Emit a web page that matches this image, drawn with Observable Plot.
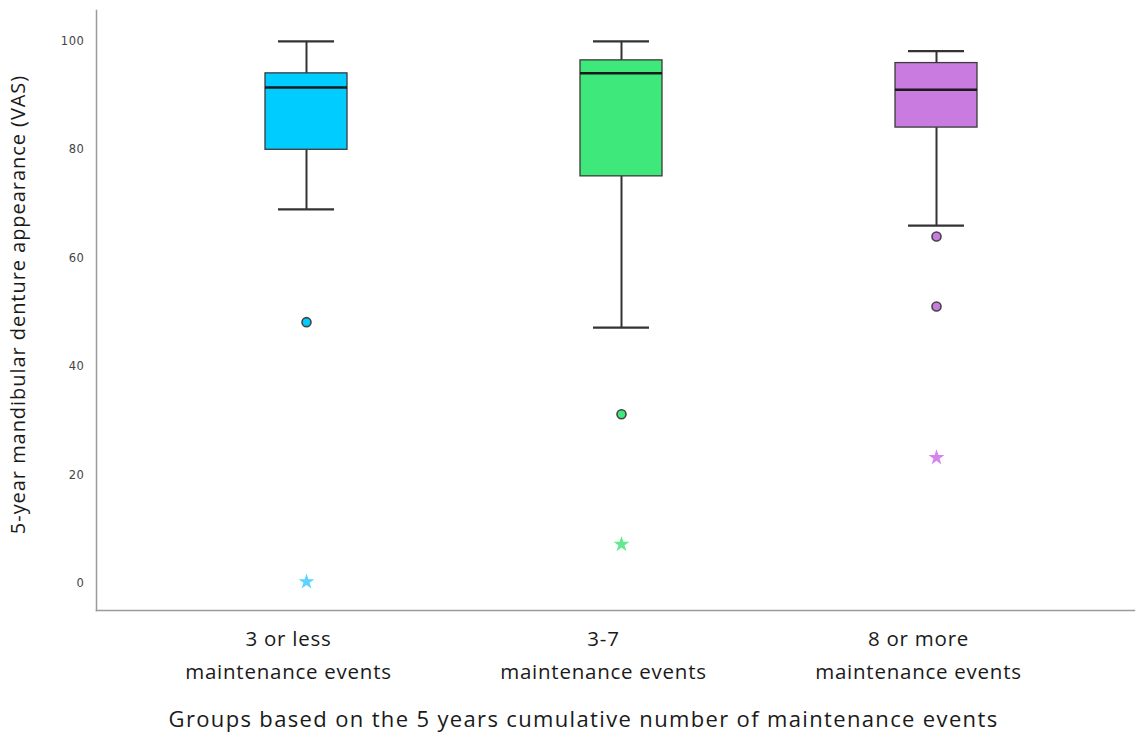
<!DOCTYPE html>
<html>
<head>
<meta charset="utf-8">
<script src="https://cdn.jsdelivr.net/npm/d3@7"></script>
<script src="https://cdn.jsdelivr.net/npm/@observablehq/plot@0.6"></script>
<style>
  html, body { margin: 0; padding: 0; background: #fff; }
  #chart svg { display: block; }
</style>
</head>
<body>
<div id="chart"></div>
<script>
const groups = ["3 or less\nmaintenance events", "3-7\nmaintenance events", "8 or more\nmaintenance events"];
const boxColors = ["#00ccff", "#3fe87a", "#c97be0"];
const starColors = ["#5fd3ff", "#62e98f", "#d882f0"];
const whiskerLow = [69, 47.2, 66];
const q1 = [80, 75.1, 84.1];
const median = [91.5, 94.1, 91.1];
const q3 = [94.1, 96.5, 96];
const whiskerHigh = [100, 100, 98.2];
const outlierGroup = [0, 1, 2, 2];
const outlierValue = [48.2, 31.2, 64, 51.1];
const extremeGroup = [0, 1, 2];
const extremeValue = [0.3, 7.2, 23.2];
const yTicks = [0, 20, 40, 60, 80, 100];

const boxes = groups.map((g, i) => ({
  group: g, color: boxColors[i], lo: whiskerLow[i], q1: q1[i], med: median[i], q3: q3[i], hi: whiskerHigh[i]
}));
const outliers = outlierGroup.map((gi, i) => ({group: groups[gi], color: boxColors[gi], value: outlierValue[i]}));
const extremes = extremeGroup.map((gi, i) => ({group: groups[gi], color: starColors[gi], value: extremeValue[i]}));

const font = "'Open Sans', sans-serif";

const chart = Plot.plot({
  width: 1136,
  height: 740,
  marginLeft: 96,
  marginRight: 2,
  marginTop: 10,
  marginBottom: 130,
  style: {fontFamily: font, background: "#fff"},
  x: {type: "band", domain: groups, range: [96, 1146], paddingInner: 0.7397, paddingOuter: 0.5365, align: 0.5},
  y: {domain: [-5, 105.7]},
  color: {type: "identity"},
  marks: [
    Plot.frame({anchor: "left", stroke: "#9a9a9a", strokeWidth: 1.5}),
    Plot.frame({anchor: "bottom", stroke: "#9a9a9a", strokeWidth: 1.5}),
    Plot.axisY(yTicks, {tickSize: 0, tickPadding: 12, label: null, fontFamily: "'DejaVu Sans', sans-serif", fontSize: 11.5, fill: "#444"}),
    Plot.text(["5-year mandibular denture appearance (VAS)"], {frameAnchor: "left", textAnchor: "middle", dx: -78, dy: -6, rotate: -90, fontSize: 20, fill: "#1a1a1a", fontFamily: font}),
    Plot.axisX({tickSize: 0, tickPadding: 11, dx: -18, label: null, fontSize: 20.5, fill: "#1a1a1a", lineHeight: 1.65, fontFamily: font}),
    Plot.text(["Groups based on the 5 years cumulative number of maintenance events"], {frameAnchor: "bottom", dx: -32, dy: 116, fontSize: 22, fill: "#1a1a1a", fontFamily: font}),
    // whiskers
    Plot.ruleX(boxes, {x: "group", y1: "lo", y2: "q1", stroke: "#333", strokeWidth: 2}),
    Plot.ruleX(boxes, {x: "group", y1: "q3", y2: "hi", stroke: "#333", strokeWidth: 2}),
    Plot.tickY(boxes, {x: "group", y: "lo", stroke: "#333", strokeWidth: 2.2, insetLeft: 13, insetRight: 13}),
    Plot.tickY(boxes, {x: "group", y: "hi", stroke: "#333", strokeWidth: 2.2, insetLeft: 13, insetRight: 13}),
    // boxes
    Plot.barY(boxes, {x: "group", y1: "q1", y2: "q3", fill: "color", stroke: "#3a3a3a", strokeWidth: 1.3}),
    Plot.tickY(boxes, {x: "group", y: "med", stroke: "#1a1a1a", strokeWidth: 2.5}),
    // outliers
    Plot.dot(outliers, {x: "group", y: "value", r: 4.5, fill: "color", stroke: "#444", strokeWidth: 1.6}),
    Plot.dot(extremes, {x: "group", y: "value", symbol: "star", r: 5, fill: "color", stroke: "none"})
  ]
});
// letter spacing to mimic the wider reference typeface
d3.select(chart).selectAll("g[aria-label='x-axis tick label'] text").attr("letter-spacing", "0.75px");
d3.select(chart).selectAll("g[aria-label='y-axis tick label'] text").attr("letter-spacing", "0.6px");
const titleGroups = d3.select(chart).selectAll("g[aria-label='text']").nodes();
if (titleGroups[0]) d3.select(titleGroups[0]).selectAll("text").attr("letter-spacing", "0.95px");
if (titleGroups[1]) d3.select(titleGroups[1]).selectAll("text").attr("letter-spacing", "1.35px");
document.getElementById("chart").appendChild(chart);
</script>
</body>
</html>
